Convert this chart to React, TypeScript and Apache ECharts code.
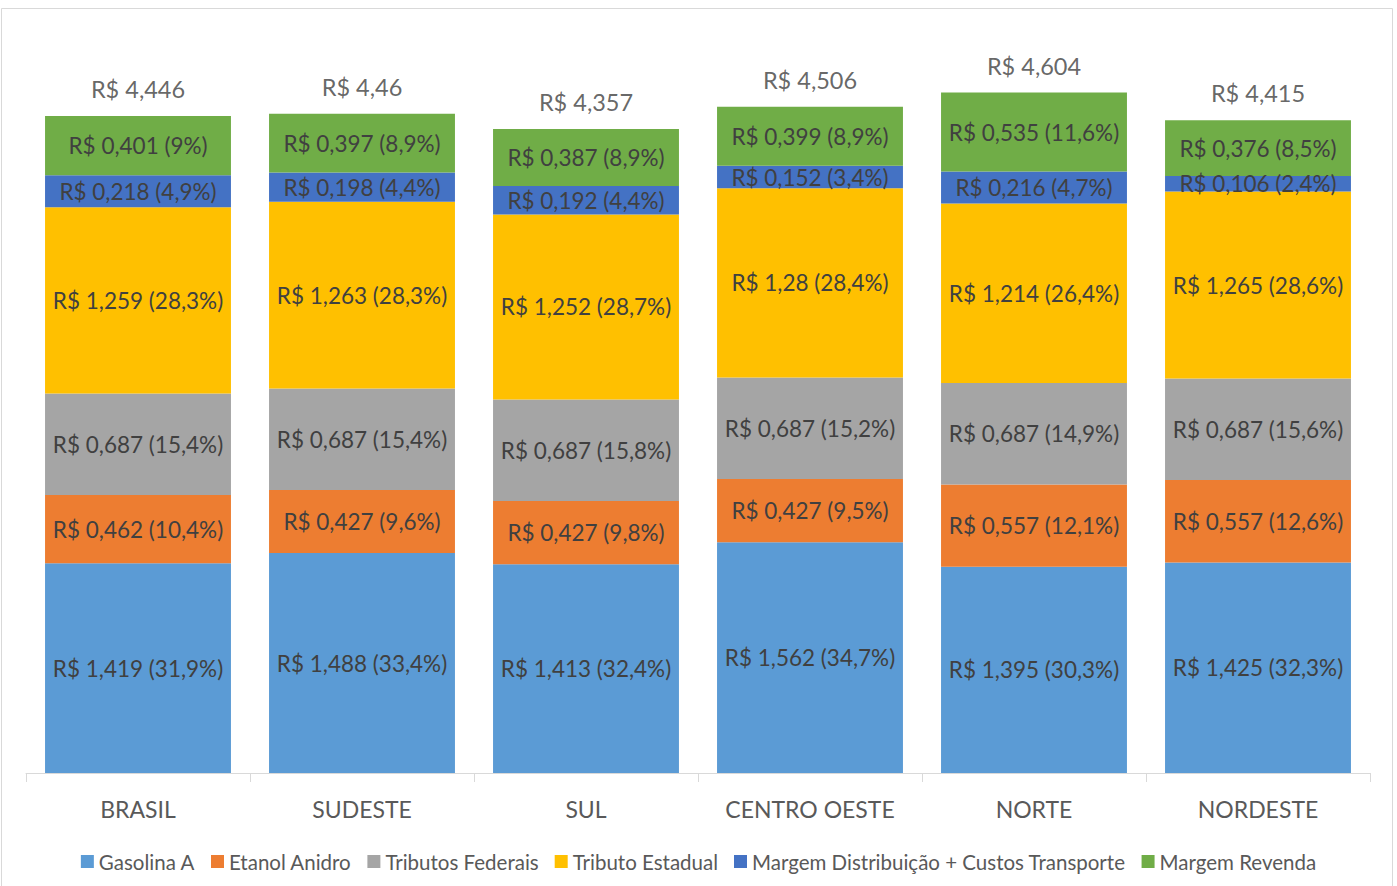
import React, { useEffect, useRef } from "react";
import * as echarts from "echarts";

const categories = ["BRASIL", "SUDESTE", "SUL", "CENTRO OESTE", "NORTE", "NORDESTE"];

const seriesNames = [
  "Gasolina A",
  "Etanol Anidro",
  "Tributos Federais",
  "Tributo Estadual",
  "Margem Distribuição + Custos Transporte",
  "Margem Revenda",
];

const gasolinaA = [1.419, 1.488, 1.413, 1.562, 1.395, 1.425];
const etanolAnidro = [0.462, 0.427, 0.427, 0.427, 0.557, 0.557];
const tributosFederais = [0.687, 0.687, 0.687, 0.687, 0.687, 0.687];
const tributoEstadual = [1.259, 1.263, 1.252, 1.28, 1.214, 1.265];
const margemDistribuicao = [0.218, 0.198, 0.192, 0.152, 0.216, 0.106];
const margemRevenda = [0.401, 0.397, 0.387, 0.399, 0.535, 0.376];

const pctGasolinaA = ["31,9", "33,4", "32,4", "34,7", "30,3", "32,3"];
const pctEtanolAnidro = ["10,4", "9,6", "9,8", "9,5", "12,1", "12,6"];
const pctTributosFederais = ["15,4", "15,4", "15,8", "15,2", "14,9", "15,6"];
const pctTributoEstadual = ["28,3", "28,3", "28,7", "28,4", "26,4", "28,6"];
const pctMargemDistribuicao = ["4,9", "4,4", "4,4", "3,4", "4,7", "2,4"];
const pctMargemRevenda = ["9", "8,9", "8,9", "8,9", "11,6", "8,5"];

const totals = [4.446, 4.46, 4.357, 4.506, 4.604, 4.415];

const colors = ["#5B9BD5", "#ED7D31", "#A5A5A5", "#FFC000", "#4472C4", "#70AD47"];

const FONT = "Lato";

const fmt = (v: number) => String(v).replace(".", ",");

export default function App() {
  const ref = useRef<HTMLDivElement>(null);
  useEffect(() => {
    if (!ref.current) return;
    const chart = echarts.init(ref.current, undefined, { renderer: "svg" });
    const values = [gasolinaA, etanolAnidro, tributosFederais, tributoEstadual, margemDistribuicao, margemRevenda];
    const pcts = [pctGasolinaA, pctEtanolAnidro, pctTributosFederais, pctTributoEstadual, pctMargemDistribuicao, pctMargemRevenda];
    const barSeries = seriesNames.map((name, i) => ({
      name,
      type: "bar",
      stack: "total",
      barCategoryGap: "17%",
      itemStyle: { color: colors[i] },
      label: {
        show: true,
        position: "inside",
        color: "#404040",
        fontFamily: FONT,
        fontSize: 22.5,
        formatter: (p: any) => `R$ ${fmt(p.value)} (${pcts[i][p.dataIndex]}%)`,
      },
      emphasis: { disabled: true },
      data: values[i],
    }));
    chart.setOption({
      animation: false,
      graphic: [
        {
          type: "rect",
          shape: { x: 1.5, y: 8.5, width: 1391, height: 900 },
          style: { fill: "none", stroke: "#d9d9d9", lineWidth: 1 },
          silent: true,
        },
      ],
      grid: { left: 26, right: 27, top: 34, bottom: 113 },
      legend: {
        data: seriesNames,
        bottom: 9,
        left: "center",
        itemWidth: 13,
        itemHeight: 13,
        itemGap: 16,
        icon: "rect",
        textStyle: { color: "#595959", fontFamily: FONT, fontSize: 20.5 },
      },
      xAxis: {
        type: "category",
        data: categories,
        axisLine: { lineStyle: { color: "#d9d9d9", width: 1 } },
        axisTick: { show: true, length: 9, lineStyle: { color: "#d9d9d9" } },
        axisLabel: { color: "#595959", fontFamily: FONT, fontSize: 23, margin: 24 },
      },
      yAxis: {
        type: "value",
        min: 0,
        max: 5,
        show: false,
        splitLine: { show: false },
      },
      series: [
        ...barSeries,
        {
          name: "Total",
          type: "scatter",
          symbolSize: 0,
          data: totals,
          label: {
            show: true,
            position: "top",
            distance: 15,
            color: "#404040",
            fontFamily: FONT,
            fontSize: 23.5,
            formatter: (p: any) => `R$ ${fmt(p.value)}`,
          },
          emphasis: { disabled: true },
        },
      ],
    });
    return () => chart.dispose();
  }, []);
  return (
    <div
      ref={ref}
      style={{ position: "fixed", left: 0, top: 0, width: 1397, height: 886, background: "#fff" }}
    />
  );
}
